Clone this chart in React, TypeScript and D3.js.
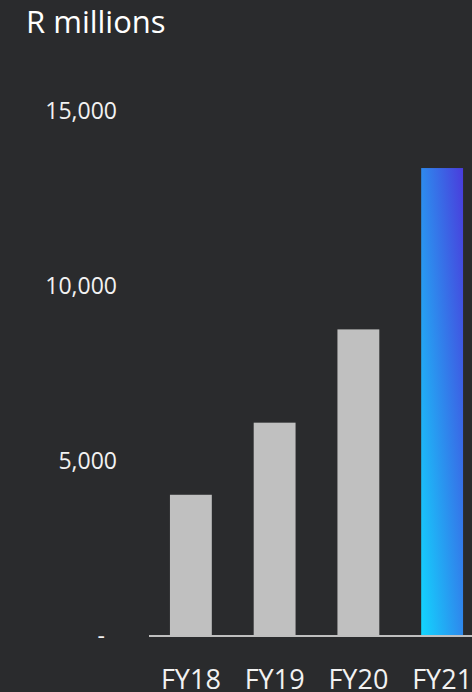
import React from "react";
import * as d3 from "d3";

const categories = ["FY18", "FY19", "FY20", "FY21"];
const values = [4035, 6095, 8760, 13370];
const yTicks = [0, 5000, 10000, 15000];
const title = "R millions";

const W = 472;
const H = 692;
const FONT = "'Open Sans', sans-serif";

export default function App() {
  const baseY = 636;
  const y = d3.scaleLinear().domain([0, 15000]).range([baseY, 111]);
  const x = d3.scaleBand().domain(categories).range([149, 484]).paddingInner(0.5).paddingOuter(0.25);
  const fmt = (v: number) => (v === 0 ? "-" : d3.format(",")(v));
  return (
    <svg width={W} height={H} style={{ position: "absolute", left: 0, top: 0, background: "#2a2b2d" }}>
      <defs>
        <linearGradient id="g21" x1="0" y1="1" x2="1" y2="0">
          <stop offset="0" stopColor="#12d6fe" />
          <stop offset="1" stopColor="#4a3cdc" />
        </linearGradient>
      </defs>
      <rect width={W} height={H} fill="#2a2b2d" />
      <text x={26} y={33} fill="#ffffff" fontFamily={FONT} fontSize={31}>{title}</text>
      {yTicks.map((t) => (
        <text key={t} x={t === 0 ? 105 : 117} y={y(t) + 8} textAnchor="end" fill="#f2f2f2" fontFamily={FONT} fontSize={23}>
          {fmt(t)}
        </text>
      ))}
      {categories.map((c, i) => (
        <rect key={c} x={x(c)} y={y(values[i])} width={x.bandwidth()} height={baseY - y(values[i])}
          fill={i === categories.length - 1 ? "url(#g21)" : "#c0c0c0"} />
      ))}
      <line x1={149} x2={W} y1={baseY} y2={baseY} stroke="#bfbfbf" strokeWidth={2} />
      {categories.map((c) => (
        <text key={c} x={(x(c) as number) + x.bandwidth() / 2} y={689} textAnchor="middle" fill="#f2f2f2" fontFamily={FONT} fontSize={27}>
          {c}
        </text>
      ))}
    </svg>
  );
}
